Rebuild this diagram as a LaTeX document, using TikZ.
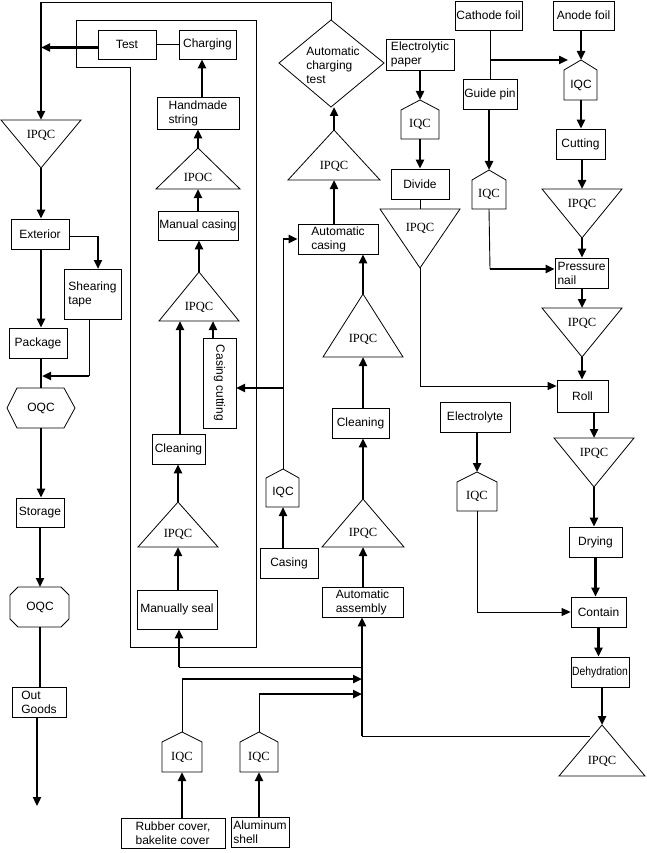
\documentclass[tikz,border=0pt]{standalone}
\usepackage{fontspec}
\setmainfont{Liberation Sans}
\newfontfamily\serq{Liberation Serif}
\usetikzlibrary{arrows.meta}
\newcommand\mysans{\fontsize{12}{14}\selectfont}
\newcommand\myserif{\serq\fontsize{12.5}{14}\selectfont}
\tikzset{
  box/.style={draw, line width=0.8pt, inner sep=0pt, align=left, font=\mysans},
  shp/.style={draw, line width=0.8pt},
  thn/.style={line width=0.9pt},
  thk/.style={line width=2.4pt},
  arr/.style={-{Triangle[length=9pt,width=8pt]}},
  qc/.style={inner sep=0pt, font=\myserif},
  qs/.style={inner sep=0pt, font=\mysans},
}
\newcommand\bx[6]{\node[box, minimum width={(#4-#2)*1pt}, minimum height={(#5-#3)*1pt}] (#1) at ({(#2+#4)/2},{(#3+#5)/2}) {#6};}
\newcommand\utri[6]{%
  \draw[shp] (#2,#4) -- ({#2+#3},#5) -- ({#2-#3},#5) -- cycle;
  \coordinate (#1-a) at (#2,#4);
  \coordinate (#1-b) at (#2,#5);
  \node[qc] (#1) at (#2,{#4+0.72*(#5-#4)}) {#6};}
\newcommand\dtri[6]{%
  \draw[shp] ({#2-#3},#4) -- ({#2+#3},#4) -- (#2,#5) -- cycle;
  \coordinate (#1-t) at (#2,#4);
  \coordinate (#1-a) at (#2,#5);
  \node[qc] (#1) at (#2,{#4+0.32*(#5-#4)}) {#6};}
\newcommand\iqc[8]{%
  \draw[shp] (#2,#5) -- (#4,#6) -- (#4,#7) -- (#3,#7) -- (#3,#6) -- cycle;
  \coordinate (#1-t) at (#2,#5);
  \coordinate (#1-b) at (#2,#7);
  \node[inner sep=0pt, font=#8] (#1) at (#2,{(#6+#7)/2}) {IQC};}
\begin{document}
\begin{tikzpicture}[x=1pt, y=-1pt]
\useasboundingbox (0,0) rectangle (647,853);
% ---------- frame ----------
\draw[thn] (76,20) -- (256,20) -- (256,647) -- (130,647) -- (130,67) -- (76,67) -- cycle;
% ---------- boxes ----------
\bx{test}{98}{30}{156}{59}{Test}
\bx{charg}{179}{30}{236}{59}{Charging}
\bx{hand}{157}{97}{239}{129}{Handmade\\string}
\bx{mcas}{158}{211}{238}{240}{Manual casing}
\bx{ccut}{203}{338}{236}{428}{}
\node[qs, rotate=-90] (ccutT) at (ccut) {Casing cutting};
\bx{clnM}{152}{434}{205}{464}{Cleaning}
\bx{mseal}{137}{590}{217}{629}{Manually seal}
\bx{ext}{11}{219}{69}{249}{Exterior}
\bx{shear}{64}{269}{121}{319}{Shearing\\tape}
\bx{pack}{9}{328}{67}{358}{Package}
\bx{stor}{16}{498}{64}{527}{Storage}
\bx{outg}{12}{687}{66}{717}{Out\\Goods}
\bx{rub}{121}{818}{225}{848}{Rubber cover,\\bakelite cover}
\bx{alu}{231}{817}{289}{847}{Aluminum\\shell}
\bx{casing}{260}{548}{318}{578}{Casing}
\bx{acas}{298}{224}{378}{254}{Automatic\\casing}
\bx{clnC}{332}{408}{389}{438}{Cleaning}
\bx{aasm}{322}{587}{403}{617}{Automatic\\assembly}
\bx{epap}{386}{39}{454}{70}{Electrolytic\\paper}
\bx{div}{391}{169}{449}{199}{Divide}
\bx{cath}{455}{1}{522}{30}{Cathode foil}
\bx{anode}{553}{1}{614}{30}{Anode foil}
\bx{guide}{463}{79}{517}{109}{Guide pin}
\bx{cut}{556}{129}{605}{159}{Cutting}
\bx{pnail}{555}{258}{608}{288}{Pressure\\nail}
\bx{roll}{557}{380}{608}{412}{Roll}
\bx{elyt}{440}{402}{510}{432}{Electrolyte}
\bx{dry}{569}{527}{622}{557}{Drying}
\bx{cont}{571}{597}{626}{627}{Contain}
\bx{dehy}{571}{657}{629}{687}{\scalebox{0.86}[1]{Dehydration}}
% ---------- triangles ----------
\dtri{ipL1}{41}{40}{120}{168}{IPQC}
\utri{ipoc}{198}{42}{148}{189}{IPOC}
\utri{ipM2}{199}{40}{272}{321}{IPQC}
\utri{ipM3}{178}{40}{502}{547}{IPQC}
\utri{ipC1}{334}{46}{130}{180}{IPQC}
\utri{ipC2}{363}{40}{294}{357}{IPQC}
\utri{ipC3}{363}{41}{499}{547}{IPQC}
\dtri{ipE}{420}{40}{209}{268}{IPQC}
\dtri{ipA1}{582}{40}{189}{238}{IPQC}
\dtri{ipA2}{582}{40}{308}{357}{IPQC}
\dtri{ipA3}{594}{40}{438}{487}{IPQC}
\utri{ipA4}{602}{43}{725}{776}{IPQC}
% ---------- IQC pentagons ----------
\iqc{iqE}{420}{401}{439}{100}{110}{139}{\myserif}
\iqc{iqA}{581}{564}{597}{60}{70}{100}{\mysans}
\iqc{iqG}{489}{472}{506}{170}{180}{209}{\myserif}
\iqc{iqCas}{283}{266}{299}{469}{478}{507}{\mysans}
\iqc{iqL}{477}{457}{497}{472}{482}{511}{\myserif}
\iqc{iqR}{182}{162}{202}{732}{742}{772}{\myserif}
\iqc{iqAl}{259}{240}{278}{732}{742}{772}{\myserif}
% ---------- diamond ----------
\draw[shp] (331,20) -- (384,63) -- (331,107) -- (279,63) -- cycle;
\coordinate (dT) at (331,20);
\coordinate (dB) at (331,107);
\node[qs, align=left] (act) at (333,65) {Automatic\\charging\\test};
% ---------- OQC ----------
\draw[shp] (7,408) -- (17,388) -- (64,388) -- (75,408) -- (64,428) -- (17,428) -- cycle;
\node[qs] (oq1) at (41,408) {OQC};
\coordinate (oq1-t) at (41,388);
\coordinate (oq1-b) at (41,428);
\draw[shp] (18,587) -- (61,587) -- (69,595) -- (69,619) -- (61,627) -- (18,627) -- (10,619) -- (10,595) -- cycle;
\node[qs] (oq2) at (40,607) {OQC};
\coordinate (oq2-t) at (40,587);
\coordinate (oq2-b) at (40,627);
% ---------- junction coordinates ----------
\coordinate (topL) at (41,2);
\coordinate (shC) at (98,236);
\coordinate (shIn) at (98,269);
\coordinate (shO) at (89,376);
\coordinate (pkJ) at (42,376);
\coordinate (ogEnd) at (37,806);
\coordinate (ccT) at (213,338);
\coordinate (ccR) at (236,388);
\coordinate (ccJ) at (283,388);
\coordinate (acJ) at (283,239);
\coordinate (clT) at (180,434);
\coordinate (hdT) at (202,97);
\coordinate (jA) at (362,736);
\coordinate (jM) at (362,667);
\coordinate (msJ) at (179,667);
\coordinate (rJ) at (182,679);
\coordinate (rE) at (362,679);
\coordinate (aJ) at (259,694);
\coordinate (aE) at (362,694);
\coordinate (ipA4-l) at (590,736);
\coordinate (cJ) at (490,60);
\coordinate (aTip) at (568,60);
\coordinate (gJ) at (490,269);
\coordinate (eJ) at (420,386);
\coordinate (lJ) at (477,612);
% ---------- left column ----------
\draw[thn] (dT) |- (topL);
\draw[thk, arr] (topL) -- (ipL1-t);
\draw[thk, arr] ([yshift=-3pt]test.west) -- ([yshift=-3pt]test.west -| topL);
\draw[thn] (test) -- (charg);
\draw[thk, arr] (ipL1-a) -- (ipL1-a |- ext.north);
\draw[thn] (ext.east |- shC) -- (shC);
\draw[thk, arr] (shC) -- (shIn);
\draw[thk, arr] (ipL1-a |- ext.south) -- (ipL1-a |- pack.north);
\draw[thn] (shO |- shear.south) -- (shO);
\draw[thk, arr] (shO) -- (pkJ);
\draw[thk] (oq1-t |- pack.south) -- (oq1-t);
\draw[thk, arr] (oq1-b) -- (oq1-b |- stor.north);
\draw[thk, arr] (oq2-t |- stor.south) -- (oq2-t);
\draw[thk] (oq2-b) -- (oq2-b |- outg.north);
\draw[thk, arr] (ogEnd |- outg.south) -- (ogEnd);
% ---------- manual column ----------
\draw[thk, arr] (hdT) -- (hdT |- charg.south);
\draw[thk, arr] (ipoc-a) -- (ipoc-a |- hand.south);
\draw[thk, arr] (ipoc-b |- mcas.north) -- (ipoc-b);
\draw[thk, arr] (ipM2-a) -- (ipM2-a |- mcas.south);
\draw[thk, arr] (ccT) -- (ccT |- ipM2-b);
\draw[thk, arr] (clT) -- (clT |- ipM2-b);
\draw[thk, arr] (ipM3-a) -- (ipM3-a |- clnM.south);
\draw[thk, arr] (ipM3-b |- mseal.north) -- (ipM3-b);
\draw[thn] (jM) -- (msJ);
\draw[thk, arr] (msJ) -- (msJ |- mseal.south);
\draw[thn] (iqR-t) -- (rJ);
\draw[thk, arr] (rJ) -- (rE);
\draw[thn] (iqAl-t) -- (aJ);
\draw[thk, arr] (aJ) -- (aE);
\draw[thk, arr] (iqR-t |- rub.north) -- (iqR-b);
\draw[thk, arr] (iqAl-t |- alu.north) -- (iqAl-b);
% ---------- automatic column ----------
\draw[thn] (ipA4-l) -- (jA);
\draw[thk, arr] (jA) -- (jA |- aasm.south);
\draw[thk, arr] (ipC3-b |- aasm.north) -- (ipC3-b);
\draw[thk, arr] (ipC3-a) -- (ipC3-a |- clnC.south);
\draw[thk, arr] (ipC2-b |- clnC.north) -- (ipC2-b);
\draw[thk, arr] (ipC2-a) -- (ipC2-a |- acas.south);
\draw[thk, arr] (ipC1-b |- acas.north) -- (ipC1-b);
\draw[thk, arr] (ipC1-a) -- (ipC1-a |- dB);
\draw[thk, arr] (iqCas-b |- casing.north) -- (iqCas-b);
\draw[thn] (iqCas-t) -- (acJ);
\draw[thk, arr] (acJ) -- (acJ -| acas.west);
\draw[thk, arr] (ccJ) -- (ccR);
% ---------- right side ----------
\draw[thk, arr] (iqE-t |- epap.south) -- (iqE-t);
\draw[thk, arr] (iqE-b) -- (iqE-b |- div.north);
\draw[thn] (ipE-t |- div.south) -- (ipE-t);
\draw[thn] (ipE-a) -- (eJ);
\draw[thn, arr] (eJ) -- (eJ -| roll.west);
\draw[thn] (cJ |- cath.south) -- (cJ |- guide.north);
\draw[thk, arr] (cJ) -- (aTip);
\draw[thk, arr] (iqG-t |- guide.south) -- (iqG-t);
\draw[thn] (iqG-b) -- (gJ);
\draw[thk, arr] (gJ) -- (gJ -| pnail.west);
\draw[thk, arr] (iqA-t |- anode.south) -- (iqA-t);
\draw[thk, arr] (iqA-b) -- (iqA-b |- cut.north);
\draw[thk, arr] (ipA1-t |- cut.south) -- (ipA1-t);
\draw[thk, arr] (ipA1-a) -- (ipA1-a |- pnail.north);
\draw[thk, arr] (ipA2-t |- pnail.south) -- (ipA2-t);
\draw[thk, arr] (ipA2-a) -- (ipA2-a |- roll.north);
\draw[thk, arr] (ipA3-t |- roll.south) -- (ipA3-t);
\draw[thk, arr] (ipA3-a) -- (ipA3-a |- dry.north);
\draw[thk, arr] (dry.south) -- (dry.south |- cont.north);
\draw[thk, arr] (cont.south) -- (cont.south |- dehy.north);
\draw[thk, arr] (ipA4-a |- dehy.south) -- (ipA4-a);
\draw[thk, arr] (iqL-t |- elyt.south) -- (iqL-t);
\draw[thn] (iqL-b) -- (lJ);
\draw[thn, arr] (lJ) -- (lJ -| cont.west);
\end{tikzpicture}
\end{document}
